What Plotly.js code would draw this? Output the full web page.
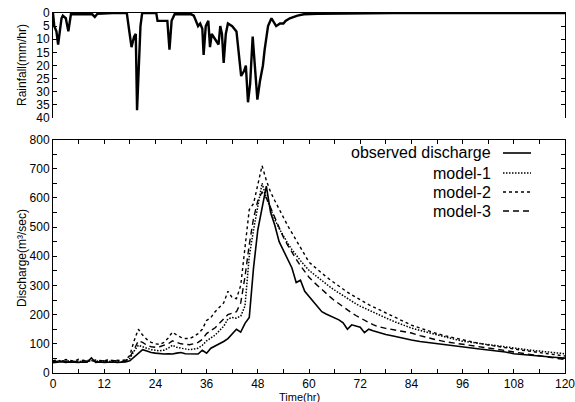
<!DOCTYPE html>
<html>
<head>
<meta charset="utf-8">
<script src="https://cdn.plot.ly/plotly-3.0.1.min.js"></script>
<style>html,body{margin:0;padding:0;background:#fff;}#chart{width:575px;height:402px;}</style>
</head>
<body>
<div id="chart"></div>
<script>
// ---- Discharge data (time in hours) ----
var hours = [];
for (var h = 0; h <= 76; h++) hours.push(h);
for (var h2 = 78; h2 <= 120; h2 += 2) hours.push(h2);

var observed = [
  35,37,39,36,38,37,36,38,37,52,36,38,36,37,38,36,37,38,
  42,55,70,80,75,70,68,66,65,66,65,68,70,66,65,66,65,78,
  68,85,92,100,108,118,135,150,140,170,190,360,
  490,560,640,550,505,450,420,390,360,310,318,280,262,245,225,210,202,195,190,182,172,150,165,160,157,138,150,145,140,
  132,126,119,113,108,104,100,96,93,89,86,82,79,76,72,66,63,60,58,55,53,51
];
var model1 = [
  40,38,42,39,41,40,38,42,39,43,40,38,41,39,42,40,38,41,
  50,75,95,90,85,80,78,76,78,85,95,88,85,82,80,82,85,95,
  110,120,130,145,160,185,190,188,195,230,400,490,
  570,650,600,560,525,495,468,445,423,403,385,368,352,340,328,316,305,294,284,274,264,255,246,237,229,222,215,208,202,
  189,176,165,154,146,138,130,123,116,109,105,101,97,93,88,84,81,78,75,72,69,66
];
var model2 = [
  42,45,40,46,43,41,47,42,44,40,45,43,41,46,42,44,43,45,
  60,110,150,130,115,105,100,98,105,120,140,130,122,118,118,125,135,150,
  180,190,210,225,240,280,258,255,300,430,560,580,
  640,710,660,620,590,560,530,505,480,455,430,405,380,367,354,342,330,319,308,297,287,277,268,259,250,242,234,227,220,
  205,190,177,164,154,144,135,127,120,113,107,101,96,91,87,83,78,74,70,66,62,58
];
var model3 = [
  38,41,43,40,42,39,41,44,40,42,39,43,41,40,43,41,39,42,
  55,80,110,105,95,90,88,90,95,100,110,105,100,98,97,100,105,115,
  135,145,155,170,185,200,205,210,240,330,440,530,
  590,620,600,565,530,495,465,438,412,390,368,348,328,313,299,285,272,260,248,237,226,216,206,197,188,180,173,166,160,
  153,147,142,137,128,120,113,107,103,99,94,90,86,82,77,72,68,63,58,54,50,46
];

// ---- Rainfall data ----
var rainTime = [0,0.3,0.8,1.2,1.6,2.0,2.3,3.0,3.6,4.2,6,9.2,9.8,10.4,14,17.3,17.8,18.4,19.0,19.4,19.7,20.1,20.5,20.9,24.2,24.5,26.8,27.3,27.8,28.5,32.4,33.0,34.0,34.5,35.0,35.3,35.8,36.4,36.6,36.8,37.2,38.0,38.8,39.2,39.6,40.0,40.5,41.0,42.0,43.0,43.6,44.1,44.8,45.2,45.7,46.2,46.8,47.3,47.9,48.5,49.2,49.6,50.4,51.2,52.3,53.2,54.0,54.5,55.5,57.3,58.8,62,66,72,80,100,120];
var rainfall = [0,5,7,12,7,2,1,2,7,0.5,0.5,0.5,1.5,0.3,0,0,6,13,9,8,37,20,5,0,0,3,3,14,3,0.5,0.5,1,5,4,6,16,5,3,8,13,8,10,12,5,8,19,8,4,5,7,15,24,22,20,34,27,9,20,33,26,20,14,5,2,5,4,4,3,2,1,0.5,0.3,0.2,0,0,0,0];

// ---- Labels ----
var seriesNames = ['observed discharge', 'model-1', 'model-2', 'model-3'];
var xTickVals = [0,6,12,18,24,30,36,42,48,54,60,66,72,78,84,90,96,102,108,114,120];
var xTickText = ['0','','12','','24','','36','','48','','60','','72','','84','','96','','108','','120'];
var qTickVals = [0,50,100,150,200,250,300,350,400,450,500,550,600,650,700,750,800];
var qTickText = ['0','','100','','200','','300','','400','','500','','600','','700','','800'];
var rTickVals = [0,5,10,15,20,25,30,35,40];
var rTickText = ['0','5','10','15','20','25','30','35','40'];

var dashes = ['solid', '1.5px,1.5px', '3px,3px', '6px,4px'];
var widths = [1.6, 1.5, 1.4, 1.4];
var series = [observed, model1, model2, model3];

var traces = [];
for (var i = 0; i < series.length; i++) {
  traces.push({
    x: hours, y: series[i], type: 'scatter', mode: 'lines', name: seriesNames[i],
    line: {color: '#000', width: widths[i], dash: dashes[i]},
    xaxis: 'x', yaxis: 'y', showlegend: false
  });
}
traces.push({
  x: rainTime, y: rainfall, type: 'scatter', mode: 'lines', name: 'rainfall',
  line: {color: '#000', width: 2.4, shape: 'linear'},
  xaxis: 'x2', yaxis: 'y2', showlegend: false
});

var font = {family: 'Liberation Sans, Arial, sans-serif', size: 12, color: '#000'};

var W = 575, H = 402, L = 53, R = 10, T = 13, B = 29;
var pw = W - L - R, ph = H - T - B;
function px2x(p) { return (p - L) / pw; }
function py2y(p) { return (H - B - p) / ph; }

var annotations = [];
var shapes = [];
var legY = [153, 173, 192, 211];
for (var k = 0; k < seriesNames.length; k++) {
  annotations.push({
    xref: 'paper', yref: 'paper', x: px2x(493), y: py2y(legY[k]),
    xanchor: 'right', yanchor: 'middle', showarrow: false,
    text: seriesNames[k], font: {family: font.family, size: 16, color: '#000'}
  });
  shapes.push({
    type: 'line', xref: 'paper', yref: 'paper',
    x0: px2x(503), x1: px2x(531), y0: py2y(legY[k]), y1: py2y(legY[k]),
    line: {color: '#000', width: widths[k], dash: dashes[k]}
  });
}
annotations.push({
  xref: 'paper', yref: 'paper', x: px2x(22), y: py2y(258), textangle: -90,
  xanchor: 'center', yanchor: 'middle', showarrow: false,
  text: 'Discharge(m\u00B3/sec)', font: {family: font.family, size: 12, color: '#000'}
});
annotations.push({
  xref: 'paper', yref: 'paper', x: px2x(22), y: py2y(65), textangle: -90,
  xanchor: 'center', yanchor: 'middle', showarrow: false,
  text: 'Rainfall(mm/hr)', font: {family: font.family, size: 12, color: '#000'}
});
annotations.push({
  xref: 'paper', yref: 'paper', x: px2x(299), y: py2y(397),
  xanchor: 'center', yanchor: 'middle', showarrow: false,
  text: 'Time(hr)', font: {family: font.family, size: 11, color: '#000'}
});

var layout = {
  width: W, height: H,
  margin: {l: L, r: R, t: T, b: B, pad: 0},
  paper_bgcolor: '#fff', plot_bgcolor: '#fff',
  font: font,
  showlegend: false,
  xaxis: {
    domain: [0, 1], range: [0, 120], anchor: 'y',
    tickmode: 'array', tickvals: xTickVals, ticktext: xTickText,
    ticks: 'inside', ticklen: 4, tickcolor: '#000', tickwidth: 1,
    ticklabeloverflow: 'allow', automargin: false,
    showline: true, linecolor: '#000', linewidth: 1, mirror: 'ticks',
    showgrid: false, zeroline: false, tickfont: font
  },
  yaxis: {
    domain: [0, py2y(139.5)], range: [0, 800], anchor: 'x',
    tickmode: 'array', tickvals: qTickVals, ticktext: qTickText,
    ticks: 'inside', ticklen: 4, tickcolor: '#000', tickwidth: 1,
    automargin: false,
    showline: true, linecolor: '#000', linewidth: 1, mirror: 'ticks',
    showgrid: false, zeroline: false, tickfont: font
  },
  xaxis2: {
    domain: [0, 1], range: [0, 120], anchor: 'y2', side: 'top',
    showticklabels: false, ticks: '',
    showline: true, linecolor: '#000', linewidth: 1,
    showgrid: false, zeroline: false
  },
  yaxis2: {
    domain: [py2y(118), 1], range: [40, 0], anchor: 'x2',
    tickmode: 'array', tickvals: rTickVals, ticktext: rTickText,
    ticks: 'inside', ticklen: 4, tickcolor: '#000', tickwidth: 1,
    automargin: false,
    showline: true, linecolor: '#000', linewidth: 1, mirror: 'ticks',
    showgrid: false, zeroline: false, tickfont: font
  },
  annotations: annotations,
  shapes: shapes
};

Plotly.newPlot('chart', traces, layout, {displayModeBar: false, staticPlot: true});
</script>
</body>
</html>
